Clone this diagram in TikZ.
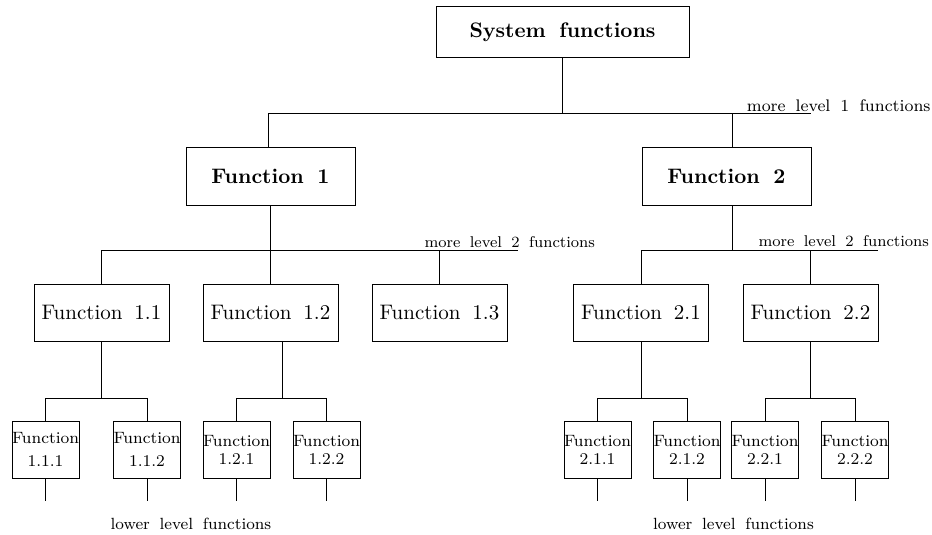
\documentclass[tikz,border=0pt]{standalone}
\usepackage{fontspec}
\setmainfont{Latin Modern Roman}[WordSpace=1.7]
\begin{document}
\begin{tikzpicture}[x=0.5pt,y=-0.5pt,
  every path/.style={line width=0.5pt},
  fbox/.style={draw, line width=0.5pt, inner sep=0pt, align=center},
  topbox/.style={fbox, minimum width=126.5pt, minimum height=25.5pt, font=\fontsize{10.5}{12}\selectfont\bfseries},
  lonebox/.style={fbox, minimum width=84.5pt, minimum height=28.5pt, font=\fontsize{10.5}{12}\selectfont\bfseries},
  ltwobox/.style={fbox, minimum width=67.5pt, minimum height=28.5pt, font=\fontsize{10.5}{12}\selectfont},
  lthreebox/.style={fbox, minimum width=33.5pt, minimum height=28.5pt, font=\fontsize{8.2}{9}\selectfont},
  note/.style={inner sep=0pt, font=\fontsize{7.8}{9}\selectfont}]
\useasboundingbox (0,0) rectangle (932,535);
% boxes
\node[topbox] (top) at (562.5,32.5) {System functions};
\node[lonebox] (f1) at (270.5,176.5) {Function 1};
\node[lonebox] (f2) at (726.5,176.5) {Function 2};
\node[ltwobox] (f11) at (101.5,312.5) {Function 1.1};
\node[ltwobox] (f12) at (270.5,312.5) {Function 1.2};
\node[ltwobox] (f13) at (439.5,312.5) {Function 1.3};
\node[ltwobox] (f21) at (641,312.5) {Function 2.1};
\node[ltwobox] (f22) at (810.5,312.5) {Function 2.2};
\node[lthreebox, font=\fontsize{8.2}{11.5}\selectfont] (f111) at (45.5,449.5) {Function\\1.1.1};
\node[lthreebox, font=\fontsize{8.2}{11.5}\selectfont] (f112) at (147,449.5) {Function\\1.1.2};
\node[lthreebox] (f121) at (236.5,449.5) {Function\\1.2.1};
\node[lthreebox] (f122) at (326.5,449.5) {Function\\1.2.2};
\node[lthreebox] (f211) at (597.5,449.5) {Function\\2.1.1};
\node[lthreebox] (f212) at (687,449.5) {Function\\2.1.2};
\node[lthreebox] (f221) at (765,449.5) {Function\\2.2.1};
\node[lthreebox] (f222) at (855,449.5) {Function\\2.2.2};
% labels
\node[note, font=\fontsize{8.4}{10}\selectfont, anchor=base east] (m1) at (931,111.5) {more level 1 functions};
\node[note, anchor=base west] (m2l) at (424,247) {more level 2 functions};
\node[note, anchor=base west] (m2r) at (758,246) {more level 2 functions};
\node[note, font=\fontsize{8.1}{10}\selectfont, anchor=base] (low1) at (191,529) {lower level functions};
\node[note, font=\fontsize{8.1}{10}\selectfont, anchor=base] (low2) at (733.5,529) {lower level functions};
% bar end points
\coordinate (l1r) at (811,114);
\coordinate (l2l) at (518,250);
\coordinate (l2r) at (878,250);
\coordinate (b3) at (0,398);
% level 1
\draw (top.south) -- (top.south |- l1r);
\draw ([xshift=-1pt]f1.north) |- (l1r);
\draw ([xshift=2.75pt]f2.north) -- ([xshift=2.75pt]f2.north |- l1r);
% level 2 left
\draw (f1.south) -- (f1.south |- l2l);
\draw (f11.north) |- (l2l);
\draw (f12.north) -- (f12.north |- l2l);
\draw (f13.north) -- (f13.north |- l2l);
% level 2 right
\draw ([xshift=2.75pt]f2.south) -- ([xshift=2.75pt]f2.south |- l2r);
\draw (f21.north) |- (l2r);
\draw (f22.north) -- (f22.north |- l2r);
% level 3
\draw (f11.south) -- (f11.south |- b3);
\draw (f111.north) -- (f111.north |- b3) -- (f112.north |- b3) -- (f112.north);
\draw ([xshift=6pt]f12.south) -- ([xshift=6pt]f12.south |- b3);
\draw (f121.north) -- (f121.north |- b3) -- (f122.north |- b3) -- (f122.north);
\draw (f21.south) -- (f21.south |- b3);
\draw (f211.north) -- (f211.north |- b3) -- (f212.north |- b3) -- (f212.north);
\draw (f22.south) -- (f22.south |- b3);
\draw (f221.north) -- (f221.north |- b3) -- (f222.north |- b3) -- (f222.north);
% stubs below
\foreach \n in {f111,f112,f121,f122,f211,f212,f221,f222}
  \draw (\n.south) -- ++(0,22);
\end{tikzpicture}
\end{document}
